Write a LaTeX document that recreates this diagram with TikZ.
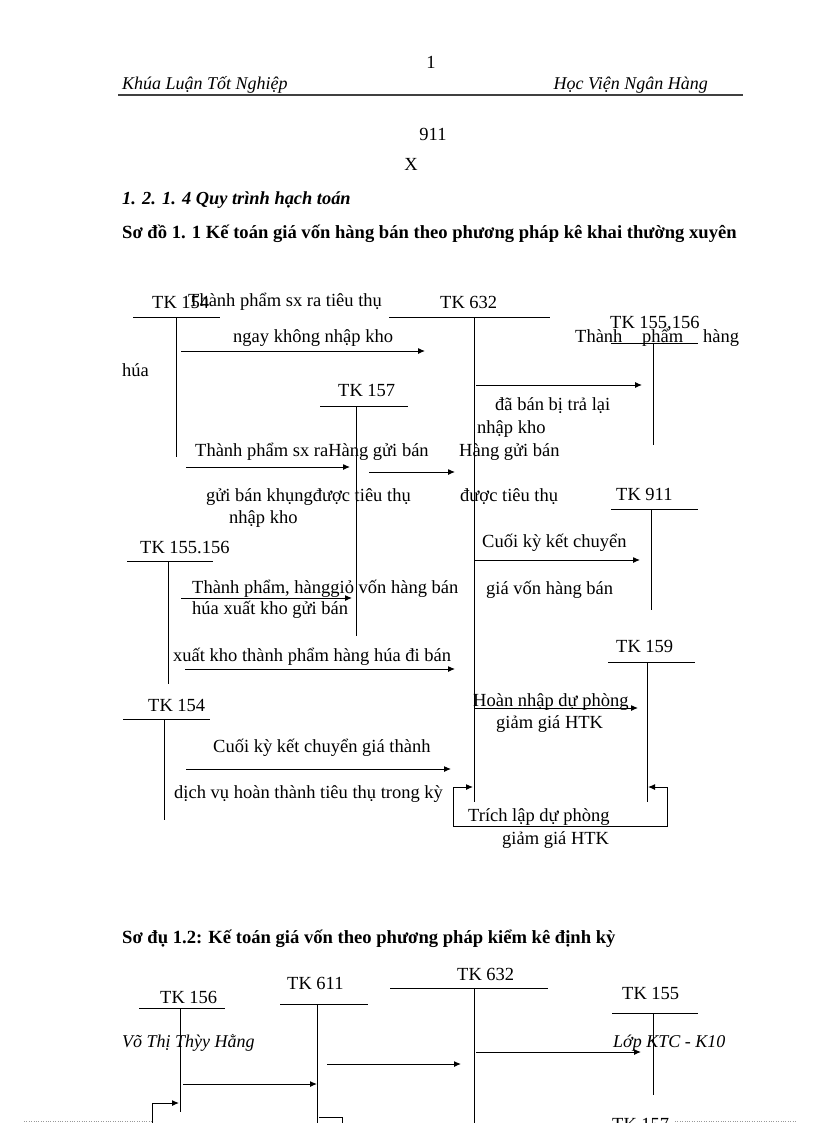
\documentclass[tikz,border=0pt]{standalone}
\usepackage{fontspec}
\setmainfont{Liberation Serif}
\usetikzlibrary{arrows.meta}

\tikzset{
  txt/.style={anchor=west, inner sep=0pt, text height=14pt, text depth=2pt,
    font=\fontsize{18.5}{22}\selectfont},
  hd/.style={txt, font=\fontsize{18}{22}\selectfont\itshape},
  ttl/.style={txt, font=\fontsize{18.6}{22}\selectfont\bfseries},
  tline/.style={line width=0.8pt},
  flow/.style={line width=1pt, -{Latex[length=7pt,width=6pt]}},
}

\begin{document}
\begin{tikzpicture}[x=1pt,y=-1pt]
  \useasboundingbox (0,0) rectangle (816,1123);

  % Page header
  \node[txt, anchor=center] (pg) at (431,63) {1};
  \node[hd] (hleft) at (122,84) {Khúa Luận Tốt Nghiệp};
  \node[hd, anchor=east] (hright) at (708,84) {Học Viện Ngân Hàng};
  \draw[line width=1.6pt, black!75] (118,95) -- (743,95);
  \node[txt, anchor=center] (n911) at (433,135) {911};
  \node[txt, anchor=center] (nx) at (411,165) {X};
  \node[ttl, font=\fontsize{18.4}{22}\selectfont\bfseries\itshape] (sec) at (122,199) {1. 2. 1. 4 Quy trình hạch toán};
  \node[ttl] (title1) at (122,233) {Sơ đồ 1. 1 Kế toán giá vốn hàng bán theo phương pháp kê khai thường xuyên};

  % T-accounts of scheme 1.1
  \foreach \l/\r/\h/\v/\b in {133/220/317/176/457, 389/550/317/474/802,
      611/698/343/653/445, 320/408/406/356/636, 611/698/509/651/610,
      127/213/561/168/684, 608/695/662/647/802, 123/210/719/164/820}
  {
    \draw[tline] (\l,\h) -- (\r,\h);
    \draw[tline] (\v,\h) -- (\v,\b);
  }
  \node[txt] (tka) at (152,302) {TK 154};
  \node[txt] (tkb) at (440,302) {TK 632};
  \node[txt] (tkc) at (610,322) {TK 155,156};
  \node[txt] (tkd) at (338,390) {TK 157};
  \node[txt] (tke) at (616,494) {TK 911};
  \node[txt] (tkf) at (140,547) {TK 155.156};
  \node[txt] (tkg) at (616,646) {TK 159};
  \node[txt] (tkh) at (148,705) {TK 154};

  % Entries of scheme 1.1
  \node[txt] (ea) at (188,300) {Thành phẩm sx ra tiêu thụ};
  \node[txt] (eb) at (233,336) {ngay không nhập kho};
  \node[txt] (ec) at (122,370) {húa};
  \node[txt] (ed1) at (575,336) {Thành};
  \node[txt] (ed2) at (642,336) {phẩm};
  \node[txt] (ed3) at (703,336) {hàng};
  \node[txt] (ee) at (495,404) {đã bán bị trả lại};
  \node[txt] (ef) at (477,427) {nhập kho};
  \node[txt] (eg) at (459,450) {Hàng gửi bán};
  \node[txt] (eh) at (195,450) {Thành phẩm sx raHàng gửi bán};
  \node[txt] (ei) at (206,495) {gửi bán khụngđược tiêu thụ};
  \node[txt] (ej) at (229,517) {nhập kho};
  \node[txt] (ek) at (460,495) {được tiêu thụ};
  \node[txt] (el) at (482,541) {Cuối kỳ kết chuyển};
  \node[txt] (em) at (486,588) {giá vốn hàng bán};
  \node[txt] (en) at (192,587) {Thành phẩm, hànggiỏ vốn hàng bán};
  \node[txt] (eo) at (192,608) {húa xuất kho gửi bán};
  \node[txt] (ep) at (173,655) {xuất kho thành phẩm hàng húa đi bán};
  \node[txt] (eq) at (473,700) {Hoàn nhập dự phòng};
  \node[txt] (er) at (496,722) {giảm giá HTK};
  \node[txt] (es) at (213,746) {Cuối kỳ kết chuyển giá thành};
  \node[txt] (et) at (174,792) {dịch vụ hoàn thành tiêu thụ trong kỳ};
  \node[txt] (eu) at (468,815) {Trích lập dự phòng};
  \node[txt] (ev) at (502,838) {giảm giá HTK};

  % Arrows of scheme 1.1
  \draw[flow] (181,351) -- (425,351);
  \draw[flow] (476,385) -- (642,385);
  \draw[flow] (186,467) -- (350,467);
  \draw[flow] (369,472) -- (455,472);
  \draw[flow] (474,560) -- (640,560);
  \draw[flow] (181,598) -- (352,598);
  \draw[flow] (185,669) -- (455,669);
  \draw[flow] (474,708) -- (638,708);
  \draw[flow] (186,769) -- (451,769);
  \draw[line width=1pt, {Latex[length=7pt,width=6pt]}-{Latex[length=7pt,width=6pt]}]
    (473,787) -- (453,787) |- (667,826) |- (648,787);

  % Scheme 1.2
  \node[ttl] (title2) at (122,937) {Sơ đụ 1.2: Kế toán giá vốn theo phương pháp kiểm kê định kỳ};
  \foreach \l/\r/\h/\v/\b in {139/225/1008/180/1112, 280/368/1004/317/1123,
      390/548/988/474/1123, 612/698/1013/653/1095}
  {
    \draw[tline] (\l,\h) -- (\r,\h);
    \draw[tline] (\v,\h) -- (\v,\b);
  }
  \node[txt] (tki) at (160,997) {TK 156};
  \node[txt] (tkj) at (287,983) {TK 611};
  \node[txt] (tkk) at (457,974) {TK 632};
  \node[txt] (tkl) at (622,993) {TK 155};
  \node[txt] (tkm) at (612,1124) {TK 157};
  \draw[flow] (476,1052) -- (641,1052);
  \draw[flow] (327,1064) -- (461,1064);
  \draw[flow] (183,1084) -- (317,1084);
  \draw[flow] (152,1123) |- (179,1103);
  \draw[line width=1pt] (319,1117) -- (342,1117) -- (342,1123);

  % Page footer
  \node[hd] (fleft) at (122,1041) {Võ Thị Thỳy Hằng};
  \node[hd] (fright) at (613,1041) {Lớp KTC - K10};
  \draw[black!40, dotted] (24,1121) -- (152,1121);
  \draw[black!40, dotted] (675,1121) -- (796,1121);
\end{tikzpicture}
\end{document}
